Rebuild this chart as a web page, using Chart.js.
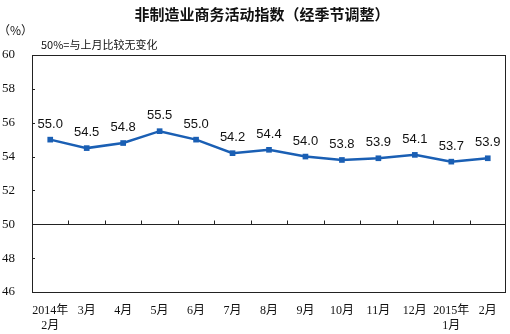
<!DOCTYPE html>
<html>
<head>
<meta charset="utf-8">
<script src="https://cdn.jsdelivr.net/npm/chart.js@4"></script>
<style>
  html, body { margin: 0; padding: 0; background: #fff; }
  #wrap { width: 510px; height: 334px; }
</style>
</head>
<body>
<div id="wrap"><canvas id="chart" width="510" height="334"></canvas></div>
<script>
'use strict';

const months = [['2014年', '2月'], '3月', '4月', '5月', '6月', '7月', '8月', '9月', '10月', '11月', '12月', ['2015年', '1月'], '2月'];
const pmiValues = [55.0, 54.5, 54.8, 55.5, 55.0, 54.2, 54.4, 54.0, 53.8, 53.9, 54.1, 53.7, 53.9];
const yTicks = [46, 48, 50, 52, 54, 56, 58, 60];

const titleText = '非制造业商务活动指数（经季节调整）';
const unitText = '（%）';
const noteText = '50%=与上月比较无变化';

const lineColor = '#1a5fb4';

// frame, 50 line, inward ticks, value labels and titles
const decorPlugin = {
  id: 'decor',
  afterDatasetsDraw(chart) {
    const ctx = chart.ctx;
    const area = chart.chartArea;
    const x = chart.scales.x;
    const y = chart.scales.y;
    ctx.save();
    ctx.strokeStyle = '#222';
    ctx.lineWidth = 1;
    ctx.strokeRect(Math.round(area.left) + 0.5, Math.round(area.top) + 0.5,
      Math.round(area.right - area.left) - 1, Math.round(area.bottom - area.top));

    // line at 50
    const y50 = Math.round(y.getPixelForValue(50)) + 0.5;
    ctx.beginPath();
    ctx.moveTo(area.left, y50);
    ctx.lineTo(area.right, y50);
    ctx.stroke();
    // category boundary ticks on the 50 line
    for (let i = 1; i < months.length; i++) {
      const px = Math.round((x.getPixelForValue(i - 1) + x.getPixelForValue(i)) / 2) + 0.5;
      ctx.beginPath();
      ctx.moveTo(px, y50);
      ctx.lineTo(px, y50 - 4);
      ctx.stroke();
    }
    // inward ticks on the value axis
    yTicks.forEach(function (v) {
      if (v === 46 || v === 50 || v === 60) return;
      const py = Math.round(y.getPixelForValue(v)) + 0.5;
      ctx.beginPath();
      ctx.moveTo(area.left, py);
      ctx.lineTo(area.left + 3, py);
      ctx.stroke();
    });

    // value labels
    ctx.fillStyle = '#111';
    ctx.font = '13px "Liberation Sans", Arial, sans-serif';
    ctx.textAlign = 'center';
    ctx.textBaseline = 'alphabetic';
    const meta = chart.getDatasetMeta(0);
    meta.data.forEach(function (pt, i) {
      ctx.fillText(pmiValues[i].toFixed(1), pt.x, pt.y - 12);
    });

    // titles
    ctx.font = 'bold 15px "Noto Sans CJK SC", sans-serif';
    ctx.fillText(titleText, 262, 20);
    ctx.textAlign = 'left';
    ctx.font = '12px "Noto Sans CJK SC", sans-serif';
    ctx.fillText(unitText, -2, 35);
    ctx.font = '11px "Noto Sans CJK SC", sans-serif';
    ctx.fillText(noteText, 41, 49);
    ctx.restore();
  }
};

function renderChart() {
  const canvasElem = document.getElementById('chart');
  const chart = {
    type: 'line',
    data: {
      labels: months,
      datasets: [
        {
          label: '非制造业商务活动指数',
          data: pmiValues,
          borderColor: lineColor,
          backgroundColor: lineColor,
          borderWidth: 2.5,
          pointStyle: 'rect',
          pointRadius: 4,
          pointBorderWidth: 0,
          tension: 0
        }
      ]
    },
    options: {
      responsive: false,
      animation: false,
      layout: { padding: { top: 55, right: 3, left: 0, bottom: 0 } },
      plugins: {
        legend: { display: false },
        tooltip: { enabled: false }
      },
      scales: {
        x: {
          offset: true,
          grid: { display: false },
          border: { display: false },
          ticks: {
            color: '#111',
            font: { family: '"Liberation Serif", "Noto Sans CJK SC", serif', size: 12, lineHeight: 1.25 },
            padding: 3,
            maxRotation: 0,
            autoSkip: false
          },
          afterFit(scale) { scale.height = 42; }
        },
        y: {
          min: 46,
          max: 60,
          grid: { display: false },
          border: { display: false },
          ticks: {
            stepSize: 2,
            color: '#111',
            padding: 9,
            font: { family: '"Liberation Serif", serif', size: 13 }
          },
          afterFit(scale) { scale.width = 32; }
        }
      }
    },
    plugins: [decorPlugin]
  };
  new Chart(canvasElem, chart);
}

renderChart();
</script>
</body>
</html>
